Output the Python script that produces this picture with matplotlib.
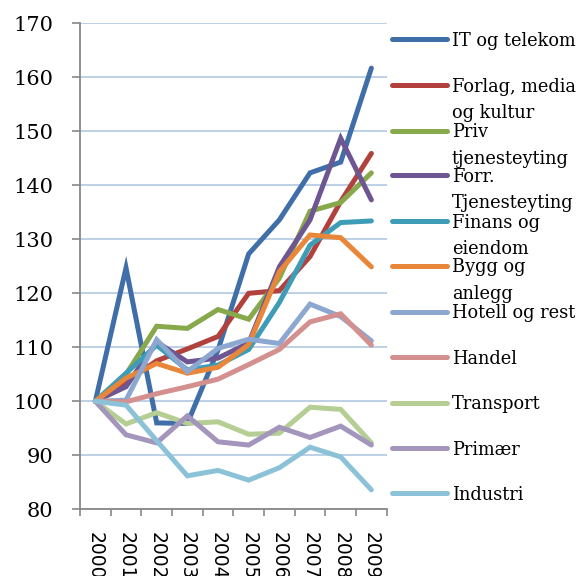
#!/usr/bin/env python3
import numpy as np
import matplotlib
matplotlib.use("Agg")
import matplotlib.pyplot as plt
from matplotlib.lines import Line2D

years = ["2000", "2001", "2002", "2003", "2004", "2005", "2006", "2007", "2008", "2009"]

it_telekom = [100, 124.7, 96.0, 95.9, 109.5, 127.3, 133.6, 142.3, 144.3, 161.7]
forlag     = [100, 103.6, 107.5, 109.7, 112.0, 120.0, 120.5, 126.8, 137.0, 145.9]
priv       = [100, 105.0, 113.9, 113.5, 117.0, 115.2, 122.8, 135.2, 136.8, 142.3]
forr       = [100, 102.7, 111.0, 107.3, 108.0, 110.8, 124.9, 133.6, 148.7, 137.3]
finans     = [100, 105.2, 110.4, 105.8, 106.7, 109.6, 118.3, 128.9, 133.1, 133.4]
bygg       = [100, 104.3, 107.0, 105.2, 106.3, 110.5, 124.0, 130.8, 130.3, 124.9]
hotell     = [100, 100.2, 111.4, 105.5, 109.8, 111.5, 110.7, 118.0, 115.7, 111.2]
handel     = [100, 99.9, 101.4, 102.7, 104.1, 106.8, 109.6, 114.7, 116.2, 110.4]
transport  = [100, 95.8, 97.9, 95.9, 96.2, 93.9, 94.1, 98.9, 98.5, 92.3]
primaer    = [100, 93.8, 92.3, 97.3, 92.5, 91.9, 95.2, 93.3, 95.4, 91.9]
industri   = [100, 99.3, 92.7, 86.2, 87.2, 85.4, 87.7, 91.5, 89.7, 83.6]

labels = ["IT og telekom", "Forlag, media\nog kultur", "Priv\ntjenesteyting",
          "Forr.\nTjenesteyting", "Finans og\neiendom", "Bygg og\nanlegg",
          "Hotell og rest", "Handel", "Transport", "Primær", "Industri"]
series = [it_telekom, forlag, priv, forr, finans, bygg, hotell, handel,
          transport, primaer, industri]
colors = ["#3F6EA8", "#B2413E", "#88A94B", "#6D5692", "#3D9DB6", "#E8873A",
          "#8CA8D0", "#D3908E", "#B5CE93", "#A395BC", "#8CC2D7"]

fig = plt.figure(figsize=(5.79, 5.76), dpi=100)
ax = fig.add_axes([80/579, 1-509.3/576, (386.7-80)/579, (509.3-23.3)/576])

x = np.arange(len(years))
for s, c in zip(series, colors):
    ax.plot(x, s, color=c, lw=3.6, solid_capstyle='round', solid_joinstyle='miter', zorder=3)

ax.set_xlim(-0.5, 9.5)
ax.set_ylim(80, 170)
ax.set_yticks(np.arange(80, 171, 10))
ax.grid(axis='y', color='#B9CDE5', lw=1.3, zorder=1)
ax.set_axisbelow(True)

ax.set_xticks(x)
ax.set_xticklabels(years, rotation=270, fontsize=13.5, family='DejaVu Sans', va='top', ha='center')
ax.set_xticks(np.arange(-0.5, 10, 1), minor=True)
ax.tick_params(axis='x', which='major', length=0, pad=16)
ax.tick_params(axis='x', which='minor', length=5, width=1.2, color='#888888')
ax.tick_params(axis='y', length=6, width=1.2, color='#888888', pad=13, labelsize=15)
for t in ax.get_yticklabels():
    t.set_family('DejaVu Serif')

for sp in ['top', 'right']:
    ax.spines[sp].set_visible(False)
for sp in ['left', 'bottom']:
    ax.spines[sp].set_color('#888888')
    ax.spines[sp].set_linewidth(1.3)

# legend drawn by hand so multi-line labels hang below the handle
leg_y = [39.3, 85, 130.7, 175, 221, 266, 311.7, 357.3, 402.7, 448.3, 493.3]
for yy, lab, c in zip(leg_y, labels, colors):
    fy = 1 - yy/576
    fig.add_artist(Line2D([391.7/579, 446.7/579], [fy, fy], color=c, lw=3.6,
                          solid_capstyle='round'))
    for i, line in enumerate(lab.split("\n")):
        fig.text(451.7/579, 1 - (yy + 6.5 + i*26.5)/576, line, fontsize=12.8,
                 family='DejaVu Serif', va='baseline', ha='left')

fig.savefig("out.png", dpi=100)
